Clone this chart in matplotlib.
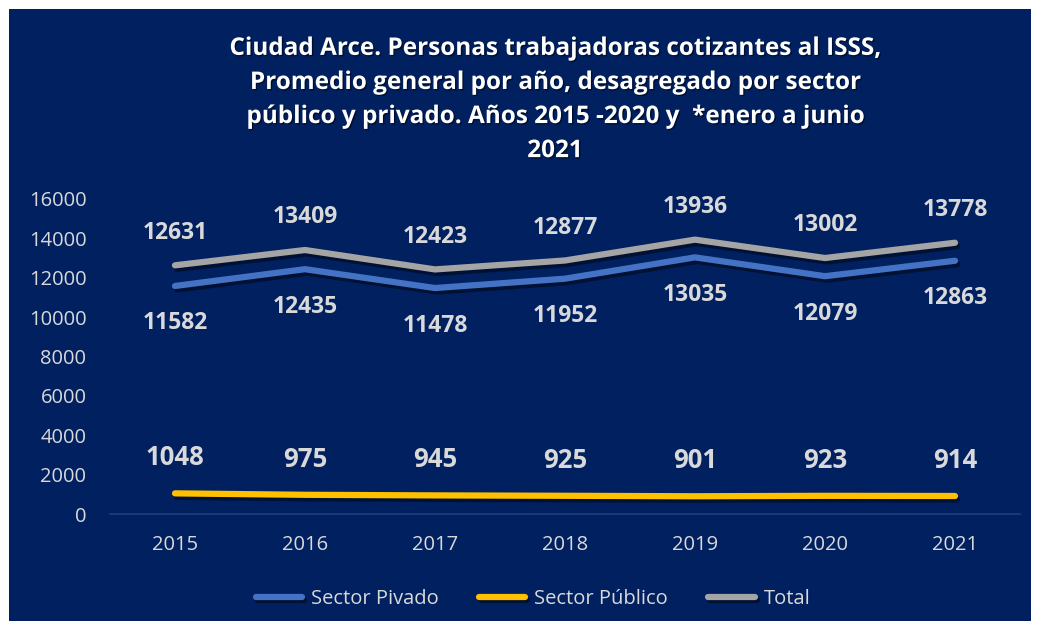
import matplotlib
matplotlib.use("Agg")
import matplotlib.pyplot as plt
import matplotlib.patheffects as pe
from matplotlib.patches import Rectangle

years = ["2015", "2016", "2017", "2018", "2019", "2020", "2021"]
privado = [11582, 12435, 11478, 11952, 13035, 12079, 12863]
publico = [1048, 975, 945, 925, 901, 923, 914]
total = [12631, 13409, 12423, 12877, 13936, 13002, 13778]

BG = "#002060"
TXT = "#D9D9D9"
FONT = "Open Sans"

fig = plt.figure(figsize=(10.39, 6.31), dpi=100)
fig.patch.set_facecolor("white")
fig.add_artist(Rectangle((9/1039, 1 - 621/631), 1022/1039, 612/631,
                         transform=fig.transFigure, facecolor=BG, edgecolor="none", zorder=0))

ax = fig.add_axes([110/1039, 1 - 514/631, 910/1039, 315/631])
ax.set_facecolor(BG)
ax.patch.set_alpha(0)
x = list(range(len(years)))

def shadow():
    return [pe.SimpleLineShadow(offset=(1.5, -2.5), shadow_color="black", alpha=0.45), pe.Normal()]

ax.plot(x, privado, color="#4472C4", lw=4.5, solid_capstyle="round", label="Sector Pivado", zorder=3,
        path_effects=shadow())
ax.plot(x, publico, color="#FFC000", lw=4.5, solid_capstyle="round", label="Sector Público", zorder=3,
        path_effects=shadow())
ax.plot(x, total, color="#A5A5A5", lw=4.5, solid_capstyle="round", label="Total", zorder=3,
        path_effects=shadow())

for i in x:
    ax.annotate(str(total[i]), (i, total[i]), xytext=(0, 23.5), textcoords="offset points",
                ha="center", va="center", color=TXT, fontsize=16.5, fontweight="bold", family=FONT)
    ax.annotate(str(privado[i]), (i, privado[i]), xytext=(0, -27), textcoords="offset points",
                ha="center", va="center", color=TXT, fontsize=16.5, fontweight="bold", family=FONT)
    ax.annotate(str(publico[i]), (i, publico[i]), xytext=(0, 25.5), textcoords="offset points",
                ha="center", va="center", color=TXT, fontsize=18.5, fontweight="bold", family=FONT)

ax.set_xlim(-0.5, 6.5)
ax.set_ylim(0, 16000)
ax.set_yticks(range(0, 16001, 2000))
ax.set_xticks(x)
ax.set_xticklabels(years)
for s in ["top", "right", "left"]:
    ax.spines[s].set_visible(False)
ax.spines["bottom"].set_color("#21407A")
ax.spines["bottom"].set_linewidth(1.2)
ax.tick_params(axis="both", length=0, colors=TXT, labelsize=14.5)
ax.tick_params(axis="y", pad=17)
ax.tick_params(axis="x", pad=15)
for lab in ax.get_xticklabels() + ax.get_yticklabels():
    lab.set_family(FONT)

title = ("Ciudad Arce. Personas trabajadoras cotizantes al ISSS,\n"
         "Promedio general por año, desagregado por sector\n"
         "público y privado. Años 2015 -2020 y  *enero a junio\n"
         "2021")
fig.text(555/1039, 1 - 100/631, title, ha="center", va="center", color="white",
         fontsize=17.5, fontweight="bold", family=FONT, linespacing=1.56,
         path_effects=[pe.withSimplePatchShadow(offset=(1, -1), shadow_rgbFace="black", alpha=0.5)])

leg = fig.legend(loc="center", bbox_to_anchor=(533/1039, 1 - 599/631), ncol=3, frameon=False,
                 prop={"family": FONT, "size": 14.5}, handlelength=2.3, handletextpad=0.45,
                 columnspacing=2.0)
for t in leg.get_texts():
    t.set_color(TXT)

fig.savefig("out.png", dpi=100, facecolor="white")
